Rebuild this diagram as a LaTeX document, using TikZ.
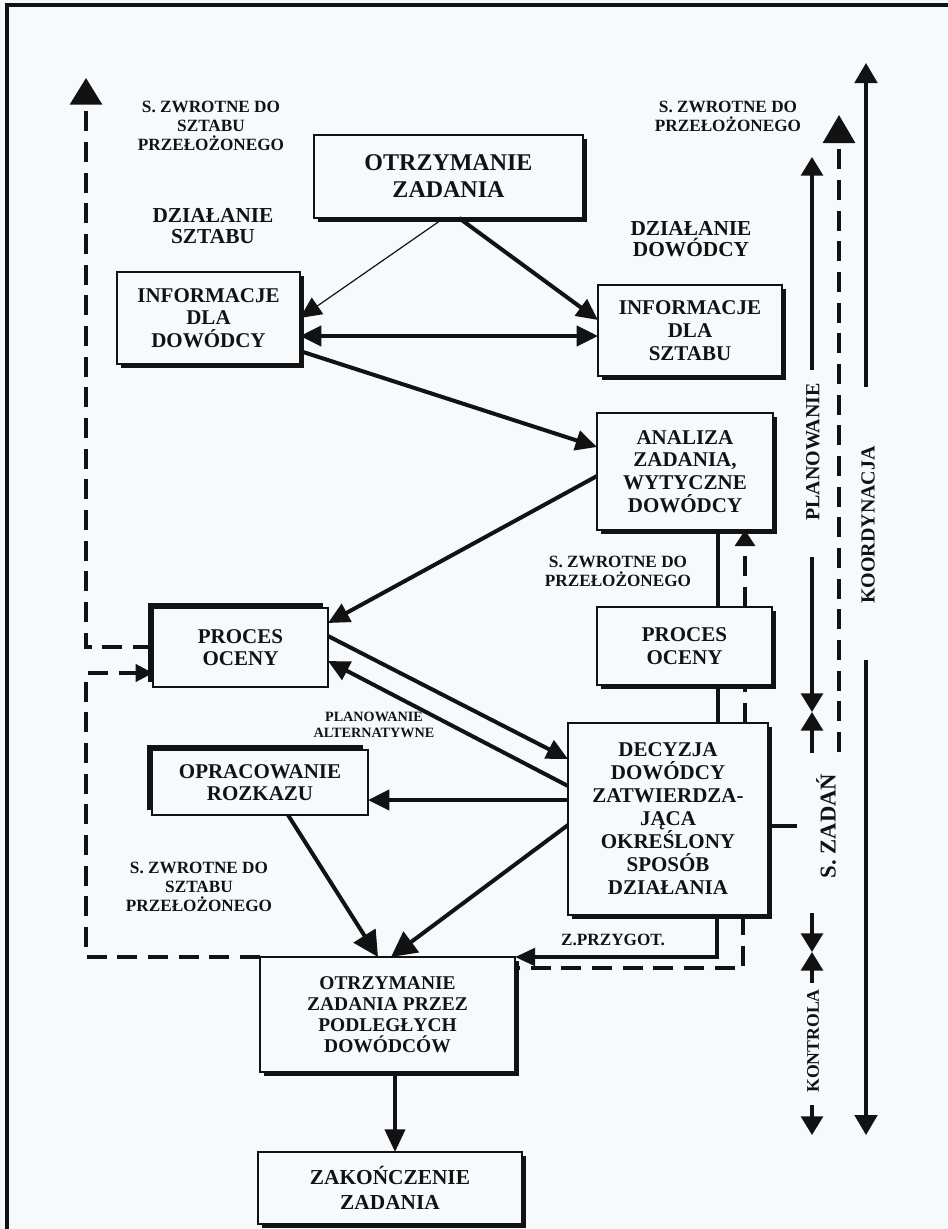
\documentclass[tikz,border=0pt]{standalone}
\usepackage{fontspec}
\setmainfont{Liberation Serif}
\usetikzlibrary{arrows.meta,shadows}
\definecolor{paper}{HTML}{F7FAFC}
\definecolor{ink}{HTML}{121212}
\newcommand{\setfs}[2]{\fontsize{#1pt}{#2pt}\selectfont\bfseries}
\begin{document}
\begin{tikzpicture}[x=0.75pt,y=-0.75pt,
  every node/.style={inner sep=0pt, outer sep=0pt, text=ink, align=center},
  wh/.style 2 args={minimum width=#1*0.75pt, minimum height=#2*0.75pt},
  boxbase/.style={draw=ink, fill=paper, line width=2.2pt, font=\setfs{15.75}{17}},
  box/.style={boxbase, general shadow={fill=ink, shadow xshift=3.2pt, shadow yshift=-3.2pt}},
  boxtl/.style={boxbase, general shadow={fill=ink, shadow xshift=-3.6pt, shadow yshift=3.6pt}},
  smalltxt/.style={font=\setfs{12.9}{14.25}},
  acttxt/.style={font=\setfs{16}{15.75}},
  sidetxt/.style={rotate=90, font=\setfs{15}{15}},
  tip/.style={-{Triangle[length=16pt,width=15pt]}},
  bigtip/.style={-{Triangle[length=19pt,width=19pt]}},
  conn/.style={draw=ink, line width=3pt},
  thinconn/.style={draw=ink, line width=0.9pt},
  dashline/.style={draw=ink, line width=2.3pt, dash pattern=on 15pt off 8pt},
  brk/.style={draw=ink, line width=2.3pt, -{Triangle[length=14pt,width=16.5pt]}},
  longbrk/.style={draw=ink, line width=2.3pt, -{Triangle[length=15pt,width=17pt]}}
]
% sheet and frame
\fill[paper] (0,0) rectangle (947,1229);
\useasboundingbox (0,0) rectangle (947,1229);
\draw[ink, line width=2.4pt] (7,1240) -- (7,5) -- (960,5);

% boxes
\node[box, wh={269}{83}, font=\setfs{18}{20.25}] (top) at (448.5,176.5) {OTRZYMANIE\\ZADANIA};
\node[box, wh={183}{92}] (info1) at (208.5,318) {INFORMACJE\\DLA\\DOWÓDCY};
\node[box, wh={184}{91}] (info2) at (690,330.5) {INFORMACJE\\DLA\\SZTABU};
\node[box, wh={176}{117}] (ana) at (685,471.5) {ANALIZA\\ZADANIA,\\WYTYCZNE\\DOWÓDCY};
\node[boxtl, wh={175}{79}] (procL) at (240.5,647.5) {PROCES\\OCENY};
\node[box, wh={175}{78}] (procR) at (684.5,646) {PROCES\\OCENY};
\node[boxtl, wh={216}{65}] (oprac) at (260,782.5) {OPRACOWANIE\\ROZKAZU};
\node[box, wh={200}{192}, font=\setfs{15.75}{17.25}] (dec) at (668,819) {DECYZJA\\DOWÓDCY\\ZATWIERDZA-\\JĄCA\\OKREŚLONY\\SPOSÓB\\DZIAŁANIA};
\node[box, wh={255}{115}, font=\setfs{14.6}{15.75}] (recv) at (387.5,1014.5) {OTRZYMANIE\\ZADANIA PRZEZ\\PODLEGŁYCH\\DOWÓDCÓW};
\node[box, wh={264}{72}, font=\setfs{16}{18.75}] (fin) at (390,1188) {ZAKOŃCZENIE\\ZADANIA};

% free labels
\node[smalltxt] (lab1) at (211,126) {S. ZWROTNE DO\\SZTABU\\PRZEŁOŻONEGO};
\node[acttxt] (lab2) at (213,226) {DZIAŁANIE\\SZTABU};
\node[acttxt] (lab3) at (691,239) {DZIAŁANIE\\DOWÓDCY};
\node[smalltxt] (lab4) at (728,116) {S. ZWROTNE DO\\PRZEŁOŻONEGO};
\node[smalltxt] (lab5) at (618,571) {S. ZWROTNE DO\\PRZEŁOŻONEGO};
\node[font=\setfs{10.65}{12}] (lab6) at (374,725) {PLANOWANIE\\ALTERNATYWNE};
\node[smalltxt] (lab7) at (199,887) {S. ZWROTNE DO\\SZTABU\\PRZEŁOŻONEGO};
\node[smalltxt] (lab8) at (613,940) {Z.PRZYGOT.};
\node[sidetxt] (plan) at (813,452) {PLANOWANIE};
\node[sidetxt] (koord) at (868,525) {KOORDYNACJA};
\node[sidetxt, font=\setfs{17}{17}] (szad) at (826,826) {S. ZADAŃ};
\node[sidetxt, font=\setfs{13.3}{13.3}] (kontr) at (813,1041) {KONTROLA};

% connectors between the boxes
\draw[thinconn, tip] (444,0 |- top.south) -- (info1.east |- 0,318);
\draw[conn, tip] (459,0 |- top.south) -- (info2.west |- 0,320);
\draw[conn, {Triangle[length=16pt,width=15pt]}-{Triangle[length=16pt,width=15pt]}] (info1.east |- 0,336) -- (info2.west |- 0,336);
\draw[conn, tip] (info1.east |- 0,351) -- (ana.west |- 0,447);
\draw[conn, tip] (ana.west |- 0,476) -- (procL.east |- 0,623);
\draw[conn, tip] (procL.east |- 0,636) -- (dec.west |- 0,759);
\draw[conn, tip] (dec.west |- 0,786) -- (procL.east |- 0,661);
\draw[conn, tip] (dec.west |- 0,800) -- (oprac.east |- 0,800);
\draw[conn, bigtip] (288,0 |- oprac.south) -- (378,0 |- recv.north);
\draw[conn, bigtip] (dec.west |- 0,825) -- (391,0 |- recv.north);
\draw[conn, -{Triangle[length=17pt,width=15pt]}] (395,0 |- recv.south) -- (395,0 |- fin.north);

% command chain on the right column
\draw[conn] (718,0 |- ana.south) -- (718,0 |- procR.north);
\draw[conn] (718,0 |- procR.south) -- (718,0 |- dec.north);
\draw[conn, -{Triangle[length=15pt,width=13pt]}] (717,0 |- dec.south) |- (recv.north east);
\draw[dashline, -{Triangle[length=12pt,width=15pt]}] (745,0 |- procR.north) -- (745,0 |- ana.south);
\draw[dashline] (745,0 |- dec.north) -- (745,0 |- procR.south);
\draw[dashline] (743,0 |- dec.south) |- (recv.east |- 0,968);
\draw[conn] (dec.east |- 0,826) -- (797,826);

% feedback loops on the left
\coordinate (upL) at (86,78);
\draw[dashline, -{Triangle[length=20pt,width=24pt]}] (procL.west |- 0,647) -| (upL);
\draw[dashline, -{Triangle[length=13pt,width=13pt]}] (recv.north west) -| (86,673) -- (procL.west |- 0,673);

% phase brackets on the right
\coordinate (planTop) at (812,157);
\coordinate (planMid) at (812,712);
\coordinate (zadMid) at (812,952);
\coordinate (konBot) at (812,1135);
\coordinate (koTop) at (866,63);
\coordinate (koBot) at (866,1135);
\coordinate (fbTop) at (839,115);
\draw[brk] (812,370) -- (planTop);
\draw[brk] (812,557) -- (planMid);
\draw[brk] (812,753) -- (planMid);
\draw[brk] (812,913) -- (zadMid);
\draw[brk] (812,983) -- (zadMid);
\draw[brk] (812,1105) -- (konBot);
\draw[longbrk] (866,387) -- (koTop);
\draw[longbrk] (866,660) -- (koBot);
\draw[dashline, -{Triangle[length=21pt,width=24pt]}] (839,752) -- (fbTop);
\end{tikzpicture}
\end{document}
